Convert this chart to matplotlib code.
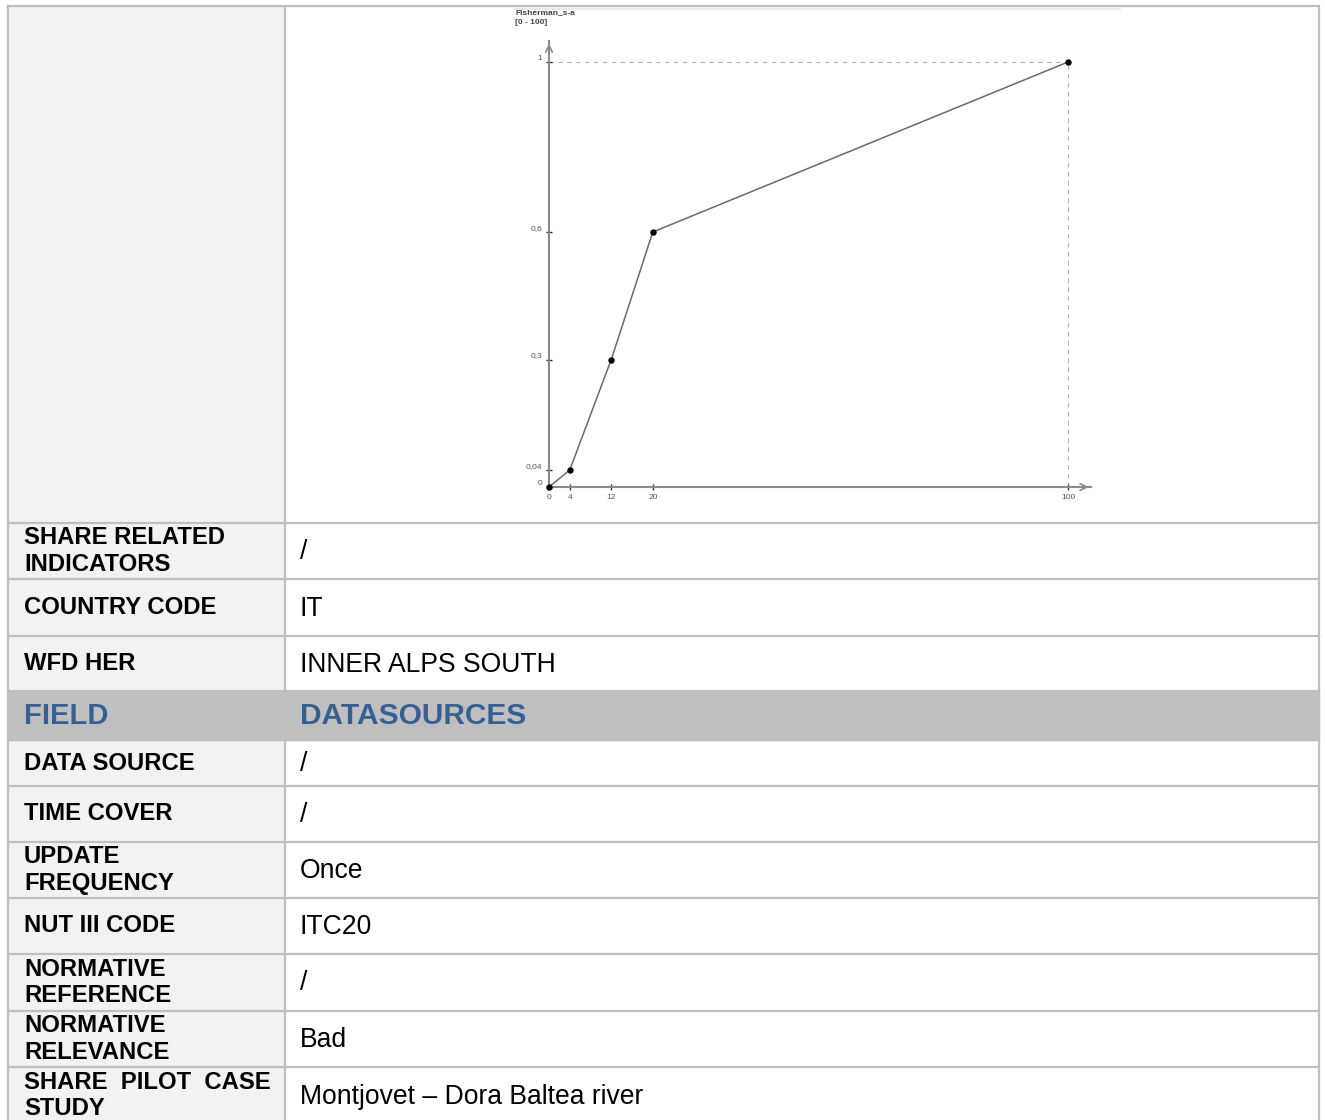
import matplotlib
matplotlib.use("Agg")
import matplotlib.pyplot as plt
from matplotlib.patches import Rectangle

# ---------------- data ----------------
x_vals = [0, 4, 12, 20, 100]
y_vals = [0, 0.04, 0.3, 0.6, 1.0]
x_ticks = [0, 4, 12, 20, 100]
x_tick_labels = ["0", "4", "12", "20", "100"]
y_ticks = [0, 0.04, 0.3, 0.6, 1.0]
y_tick_labels = ["0", "0,04", "0,3", "0,6", "1"]
chart_title = ["Fisherman_s-a", "[0 - 100]"]

fields = ["SHARE RELATED\nINDICATORS", "COUNTRY CODE", "WFD HER", "FIELD",
          "DATA SOURCE", "TIME COVER", "UPDATE\nFREQUENCY", "NUT III CODE",
          "NORMATIVE\nREFERENCE", "NORMATIVE\nRELEVANCE", "SHARE  PILOT  CASE\nSTUDY"]
values = ["/", "IT", "INNER ALPS SOUTH", "DATASOURCES",
          "/", "/", "Once", "ITC20", "/", "Bad", "Montjovet \u2013 Dora Baltea river"]

# ---------------- layout ----------------
W, H = 1325, 1120
fig = plt.figure(figsize=(W / 100, H / 100), dpi=100)
plt.rcParams['font.family'] = ['Liberation Sans', 'DejaVu Sans']

tab = fig.add_axes([0, 0, 1, 1])
tab.set_xlim(0, W)
tab.set_ylim(H, 0)
tab.axis("off")

left_x, mid_x, right_x = 8, 285, 1319
top_y = 6
row_edges = [523, 579, 636, 691, 740, 786, 842, 898, 954, 1011, 1067, 1124]
border = "#bfbfbf"
header_row = 3

# backgrounds
tab.add_patch(Rectangle((left_x, top_y), mid_x - left_x, H - top_y, color="#f2f2f2", zorder=0))
tab.add_patch(Rectangle((left_x, row_edges[header_row]), right_x - left_x,
                        row_edges[header_row + 1] - row_edges[header_row], color="#bfbfbf", zorder=1))

# grid lines
tab.plot([left_x, right_x], [top_y, top_y], color=border, lw=1.6, zorder=3)
for y in row_edges[:-1]:
    tab.plot([left_x, right_x], [y, y], color=border, lw=1.6, zorder=3)
tab.plot([left_x, left_x], [top_y, H], color=border, lw=1.6, zorder=3)
tab.plot([right_x, right_x], [top_y, H], color=border, lw=1.6, zorder=3)
tab.plot([mid_x, mid_x], [top_y, H], color=border, lw=1.6, zorder=3)

# texts
for i, (f, v) in enumerate(zip(fields, values)):
    yc = (row_edges[i] + row_edges[i + 1]) / 2
    if i == header_row:
        tab.text(24, yc + 1, f, fontsize=21, fontweight="bold", color="#366092", va="center", ha="left", zorder=4)
        tab.text(300, yc + 1, v, fontsize=21.5, fontweight="bold", color="#366092", va="center", ha="left", zorder=4)
    else:
        tab.text(24, yc, f, fontsize=17.2, fontweight="bold", color="black", va="center", ha="left",
                 linespacing=1.18, zorder=4)
        tab.text(300, yc + 1, v, fontsize=19.1, color="black", va="center", ha="left", zorder=4)

# ---------------- chart ----------------
px_per_x = (1068 - 549) / 100.0
px_per_y = (487 - 62) / 1.0
xmax, ymax = 104.5, 1.05
ax_l, ax_b = 549, 487
ax_w, ax_h = xmax * px_per_x, ymax * px_per_y
ax = fig.add_axes([ax_l / W, 1 - ax_b / H, ax_w / W, ax_h / H])
ax.set_xlim(0, xmax)
ax.set_ylim(0, ymax)
ax.patch.set_alpha(0)
for s in ["top", "right"]:
    ax.spines[s].set_visible(False)
for s in ["left", "bottom"]:
    ax.spines[s].set_color("#8a8a8a")
    ax.spines[s].set_linewidth(1.5)

ax.plot([0, x_vals[-1]], [y_vals[-1], y_vals[-1]], ls=(0, (4, 4)), color="#b0b0b0", lw=0.8, zorder=1)
ax.plot([x_vals[-1], x_vals[-1]], [0, y_vals[-1]], ls=(0, (4, 4)), color="#b0b0b0", lw=0.8, zorder=1)
ax.plot(x_vals, y_vals, color="#6a6a6a", lw=1.1, zorder=2, clip_on=False)
ax.plot(x_vals, y_vals, ls="none", marker="o", ms=3.6, color="black", zorder=3, clip_on=False)

ax.set_xticks(x_ticks)
ax.set_xticklabels(x_tick_labels)
ax.set_yticks(y_ticks)
ax.set_yticklabels(y_tick_labels)
ax.tick_params(axis="both", direction="inout", length=5, width=1.0, color="#333333",
               labelsize=6, labelcolor="#555555", pad=2.5)
for lab in ax.get_yticklabels():
    lab.set_verticalalignment("bottom")

ax.annotate("", xy=(1.0, 0), xytext=(0.96, 0), xycoords="axes fraction",
            arrowprops=dict(arrowstyle="->", color="#8a8a8a", lw=1.2, mutation_scale=12))
ax.annotate("", xy=(0, 1.0), xytext=(0, 0.96), xycoords="axes fraction",
            arrowprops=dict(arrowstyle="->", color="#8a8a8a", lw=1.2, mutation_scale=12))

tab.plot([515, 1120], [9, 9], color="#e6e6e6", lw=1.2, zorder=2)
tab.text(515, 13, chart_title[0], fontsize=6, fontweight="bold", color="#444444", va="center", ha="left")
tab.text(515, 22, chart_title[1], fontsize=6, fontweight="bold", color="#444444", va="center", ha="left")

fig.savefig("out.png", dpi=100)
